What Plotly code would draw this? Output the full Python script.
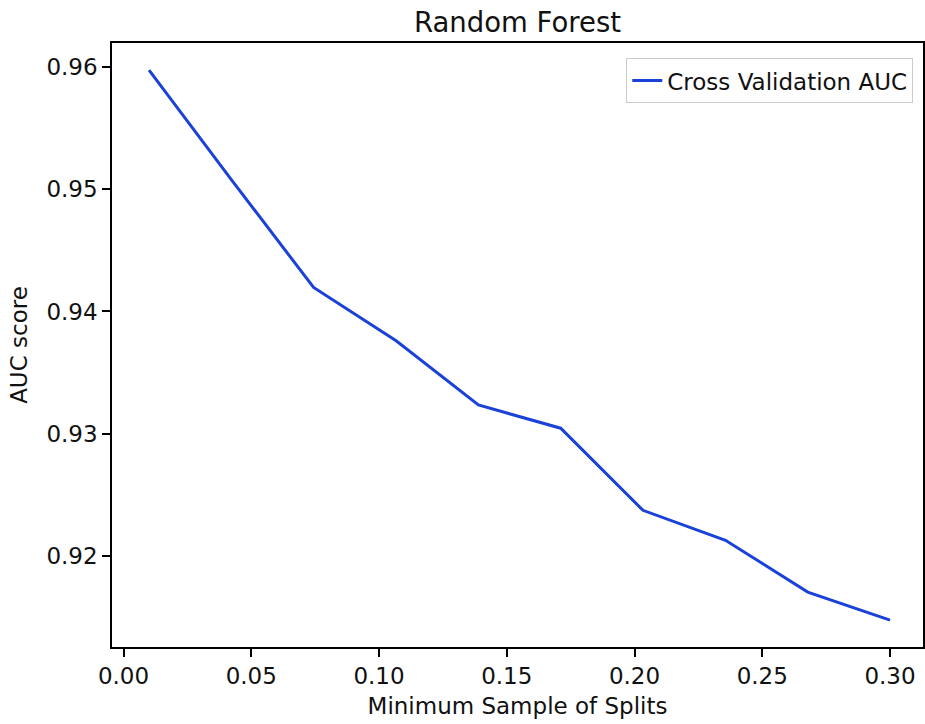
import plotly.graph_objects as go

min_samples_split = [0.01, 0.0422, 0.0744, 0.1067, 0.1389, 0.1711, 0.2033, 0.2356, 0.2678, 0.30]
cv_auc = [0.95973, 0.95078, 0.94196, 0.93760, 0.93236, 0.93046, 0.92375, 0.92130, 0.91707, 0.91478]
x_ticks = [0.00, 0.05, 0.10, 0.15, 0.20, 0.25, 0.30]
y_ticks = [0.92, 0.93, 0.94, 0.95, 0.96]

FONT = "DejaVu Sans"
FS = 23

fig = go.Figure()
fig.add_trace(go.Scatter(
    x=min_samples_split, y=cv_auc, mode="lines",
    name="Cross Validation AUC",
    line=dict(color="#1a41d8", width=3),
))

axis_common = dict(
    showline=True, mirror=True, linecolor="black", linewidth=1.6,
    ticks="outside", ticklen=8, tickwidth=1.6, tickcolor="black",
    showgrid=False, zeroline=False, automargin=False,
    tickfont=dict(family=FONT, size=FS, color="#111111"),
)

fig.update_layout(
    width=925, height=724,
    paper_bgcolor="white", plot_bgcolor="white",
    margin=dict(l=112, r=2, t=43, b=77),
    font=dict(family=FONT, color="black"),
    title=dict(text="Random Forest", x=(112 + 923) / 2 / 925, xanchor="center",
               y=1 - 22 / 724, yanchor="middle",
               font=dict(family=FONT, size=27.5, color="#111111")),
    xaxis=dict(range=[-0.0045, 0.3129], tickvals=x_ticks,
               ticktext=[f"{v:.2f}" for v in x_ticks],
               title=dict(text="Minimum Sample of Splits", standoff=9,
                          font=dict(family=FONT, size=FS, color="#111111")),
               **axis_common),
    yaxis=dict(range=[0.91258, 0.96194], tickvals=y_ticks,
               ticktext=[f"{v:.2f}" for v in y_ticks],
               title=dict(text="AUC score", standoff=12,
                          font=dict(family=FONT, size=FS, color="#111111")),
               **axis_common),
    legend=dict(x=0.988, y=0.975, xanchor="right", yanchor="top",
                bordercolor="#cccccc", borderwidth=1, bgcolor="white",
                font=dict(family=FONT, size=FS, color="#111111")),
    showlegend=True,
)

fig.write_html("out.html", config={"displayModeBar": False},
               post_script="document.body.style.margin='0px';document.body.style.overflow='hidden';")
